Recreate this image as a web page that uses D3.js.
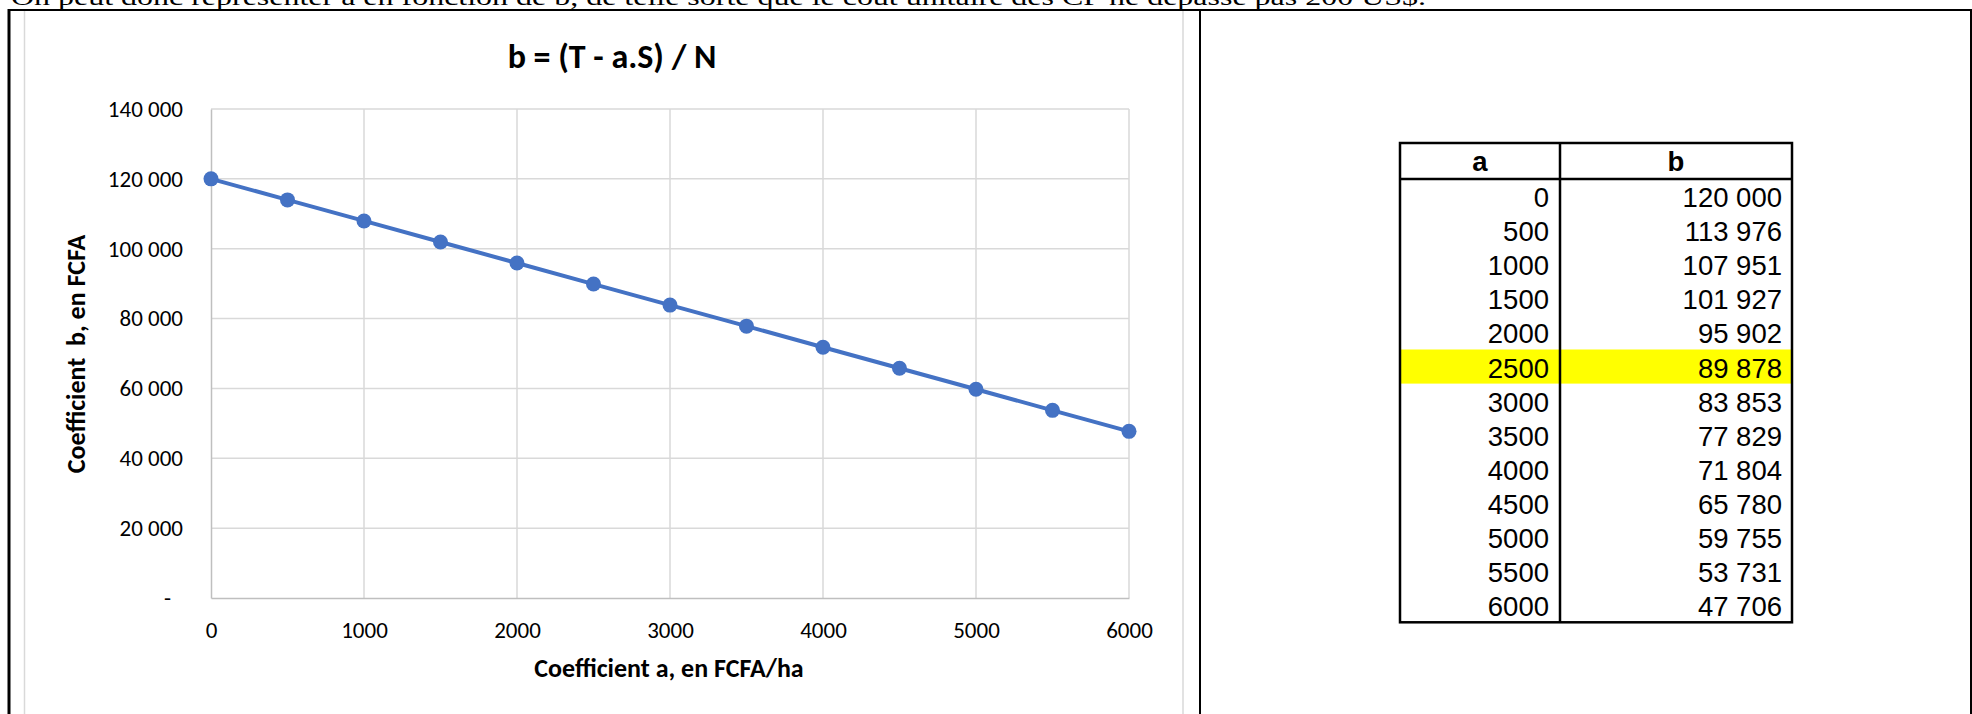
<!DOCTYPE html>
<html>
<head>
<meta charset="utf-8">
<script src="https://cdn.jsdelivr.net/npm/d3@7"></script>
<style>
body{margin:0;background:#fff;}
svg{display:block;}
</style>
</head>
<body>
<div id="dataviz-container"></div>
<script>
// values read from the sheet
var coefA=[0,500,1000,1500,2000,2500,3000,3500,4000,4500,5000,5500,6000];
var coefB=[120000,113976,107951,101927,95902,89878,83853,77829,71804,65780,59755,53731,47706];
var xTicks=[0,1000,2000,3000,4000,5000,6000];
var yTicks=[0,20000,40000,60000,80000,100000,120000,140000];
var highlightA=2500;

var chartTitle="b = (T - a.S) / N";
var xTitle="Coefficient a, en FCFA/ha";
var yTitle="Coefficient  b, en FCFA";
var tableHead=["a","b"];
var topLine="On peut donc représenter a en fonction de b, de telle sorte que le coût unitaire des CF ne dépasse pas 200 US$.";

var W=1972,H=714;
var fr=d3.formatLocale({decimal:",",thousands:"\u00a0",grouping:[3],currency:["",""]});
var fmt=fr.format(",.0f");
var blue="#4472C4";

var svg=d3.select("#dataviz-container").append("svg").attr("width",W).attr("height",H);
svg.append("rect").attr("width",W).attr("height",H).attr("fill","#fff");

//---------------------page frame---------------------------------------------------
// the sentence above the frame is cut by the top of the page, as in the source
svg.append("text").attr("x",11).attr("y",5)
	.attr("font-family","'Liberation Serif','Times New Roman',serif").attr("font-size",24)
	.attr("textLength",1415).attr("lengthAdjust","spacingAndGlyphs")
	.text(topLine);

// chart object border (light grey)
svg.append("line").attr("x1",24.5).attr("x2",24.5).attr("y1",11).attr("y2",H).attr("stroke","#d9d9d9").attr("stroke-width",1.5);
svg.append("line").attr("x1",1183).attr("x2",1183).attr("y1",11).attr("y2",H).attr("stroke","#d9d9d9").attr("stroke-width",1.5);

svg.append("line").attr("x1",8).attr("x2",W).attr("y1",10).attr("y2",10).attr("stroke","#000").attr("stroke-width",2);
svg.append("line").attr("x1",9).attr("x2",9).attr("y1",9).attr("y2",H).attr("stroke","#000").attr("stroke-width",3);
svg.append("line").attr("x1",1200).attr("x2",1200).attr("y1",10).attr("y2",H).attr("stroke","#000").attr("stroke-width",2);
svg.append("line").attr("x1",W-1).attr("x2",W-1).attr("y1",10).attr("y2",H).attr("stroke","#000").attr("stroke-width",2);

//---------------------chart---------------------------------------------------
var x=d3.scaleLinear().domain([0,6000]).range([211,1129]);
var y=d3.scaleLinear().domain([0,140000]).range([598,109]);
var calibri="Carlito,Calibri,Lato,sans-serif";

var g=svg.append("g");
g.selectAll(".hg").data(yTicks.filter(function(d){return d>0;})).enter().append("line")
	.attr("x1",x(0)).attr("x2",x(6000)).attr("y1",function(d){return y(d);}).attr("y2",function(d){return y(d);})
	.attr("stroke","#d9d9d9").attr("stroke-width",1.5);
g.selectAll(".vg").data(xTicks.filter(function(d){return d>0;})).enter().append("line")
	.attr("x1",function(d){return x(d);}).attr("x2",function(d){return x(d);}).attr("y1",y(140000)).attr("y2",y(0))
	.attr("stroke","#d9d9d9").attr("stroke-width",1.5);

var xAxis=g.append("g").attr("transform","translate(0,"+y(0)+")")
	.call(d3.axisBottom(x).tickValues(xTicks).tickSize(0).tickFormat(d3.format("d")));
var yAxis=g.append("g").attr("transform","translate("+x(0)+",0)")
	.call(d3.axisLeft(y).tickValues(yTicks).tickSize(0).tickPadding(28).tickFormat(function(d){return d===0?"-":fmt(d);}));
[xAxis,yAxis].forEach(function(a){
	a.select(".domain").attr("stroke","#bfbfbf").attr("stroke-width",1.5);
	a.selectAll("text").attr("font-family",calibri).attr("font-size",23).attr("fill","#000");
});
xAxis.selectAll("text").attr("dy",0).attr("y",40);
yAxis.selectAll("text").filter(function(d){return d===0;}).attr("x",-40);

var line=d3.line().x(function(d,i){return x(coefA[i]);}).y(function(d){return y(d);});
g.append("path").datum(coefB).attr("d",line).attr("fill","none").attr("stroke",blue).attr("stroke-width",4);
g.selectAll(".dot").data(coefB).enter().append("circle")
	.attr("cx",function(d,i){return x(coefA[i]);}).attr("cy",function(d){return y(d);})
	.attr("r",7.5).attr("fill",blue);

svg.append("text").attr("x",612).attr("y",68).attr("text-anchor","middle")
	.attr("font-family",calibri).attr("font-weight","bold").attr("font-size",34).text(chartTitle);
svg.append("text").attr("x",669).attr("y",677).attr("text-anchor","middle")
	.attr("font-family",calibri).attr("font-weight","bold").attr("font-size",26).text(xTitle);
svg.append("text").attr("transform","translate(85,354) rotate(-90)").attr("text-anchor","middle")
	.attr("font-family",calibri).attr("font-weight","bold").attr("font-size",26).attr("xml:space","preserve").text(yTitle);

//---------------------table---------------------------------------------------
var tx0=1400,tx1=1560,tx2=1792,ty0=143,ty1=179,rowH=34.1;
var t=svg.append("g").attr("font-family","'Liberation Sans',Arial,sans-serif").attr("font-size",27.5);
t.selectAll(".hl").data(coefA.filter(function(d){return d===highlightA;})).enter().append("rect")
	.attr("x",tx0).attr("width",tx2-tx0).attr("y",function(d){return ty1+coefA.indexOf(d)*rowH;}).attr("height",rowH)
	.attr("fill","#ffff00");
t.selectAll(".ca").data(coefA).enter().append("text")
	.attr("x",tx1-11).attr("y",function(d,i){return ty1+i*rowH+28;}).attr("text-anchor","end").text(function(d){return d;});
t.selectAll(".cb").data(coefB).enter().append("text")
	.attr("x",tx2-10).attr("y",function(d,i){return ty1+i*rowH+28;}).attr("text-anchor","end").text(function(d){return fmt(d);});
t.selectAll(".th").data(tableHead).enter().append("text")
	.attr("x",function(d,i){return i===0?(tx0+tx1)/2:(tx1+tx2)/2;}).attr("y",ty1-8)
	.attr("text-anchor","middle").attr("font-weight","bold").text(function(d){return d;});
var ty2=ty1+coefA.length*rowH;
t.append("rect").attr("x",tx0).attr("y",ty0).attr("width",tx2-tx0).attr("height",ty2-ty0).attr("fill","none").attr("stroke","#000").attr("stroke-width",2.5);
t.append("line").attr("x1",tx0).attr("x2",tx2).attr("y1",ty1).attr("y2",ty1).attr("stroke","#000").attr("stroke-width",2.5);
t.append("line").attr("x1",tx1).attr("x2",tx1).attr("y1",ty0).attr("y2",ty2).attr("stroke","#000").attr("stroke-width",2.5);
</script>
</body>
</html>
